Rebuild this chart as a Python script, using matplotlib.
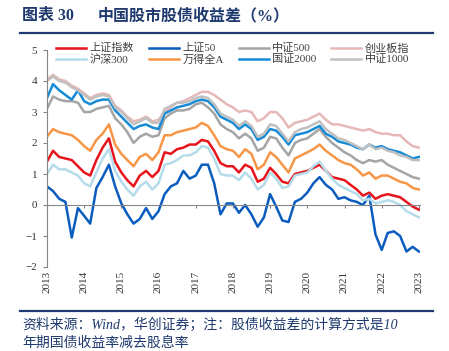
import numpy as np
import pandas as pd
import matplotlib
matplotlib.use("Agg")
import matplotlib.pyplot as plt
from matplotlib.lines import Line2D

plt.rcParams['font.family'] = ['Liberation Serif', 'Noto Sans CJK SC']

# =========================
# DATA (2-month steps)
# =========================
dates = pd.date_range("2013-01-01", "2023-01-01", freq="2MS")

szzs = [1.4, 1.75, 1.55, 1.5, 1.45, 1.25, 1.05, 0.95, 1.45, 1.85, 2.15, 1.4,
        1.05, 0.8, 0.6, 0.95, 1.1, 0.9, 1.1, 1.7, 1.65, 1.8, 1.85, 1.95,
        1.95, 2.1, 2.05, 1.75, 1.35, 1.25, 1.25, 1.05, 1.3, 1.2, 0.75, 0.85,
        1.2, 1.0, 0.75, 0.7, 1.0, 1.05, 1.1, 1.2, 1.3, 1.1, 0.9, 0.85,
        0.8, 0.65, 0.5, 0.3, 0.4, 0.2, 0.3, 0.35, 0.3, 0.25, 0.1, -0.05, -0.15]
sz50 = [0.6, 0.45, 0.2, 0.1, -1.05, -0.1, -0.35, -0.6, 0.55, 0.9, 1.3, 0.6,
        0.05, -0.3, -0.6, -0.45, -0.1, -0.45, -0.2, 0.35, 0.6, 0.7, 1.1, 0.85,
        0.95, 1.3, 1.3, 0.7, -0.3, 0.05, 0.05, -0.25, 0.0, -0.3, -0.7, -0.4,
        0.35, -0.05, -0.5, -0.55, 0.1, 0.2, 0.4, 0.7, 0.9, 0.65, 0.5, 0.2,
        0.25, 0.15, 0.1, 0.0, 0.3, -0.95, -1.45, -0.9, -0.85, -1.0, -1.5, -1.35, -1.5]
zz500 = [3.1, 3.5, 3.4, 3.35, 3.35, 3.3, 3.0, 3.0, 3.1, 3.15, 3.2, 2.8,
         2.6, 2.35, 2.0, 2.2, 2.3, 2.2, 2.25, 2.8, 2.95, 3.05, 3.05, 3.1,
         3.25, 3.3, 3.15, 2.95, 2.6, 2.45, 2.35, 2.15, 2.3, 2.15, 1.75, 1.85,
         2.2, 2.15, 1.85, 1.6, 2.0, 2.1, 2.15, 2.3, 2.45, 2.2, 2.0, 1.85,
         1.7, 1.6, 1.45, 1.35, 1.45, 1.4, 1.45, 1.3, 1.2, 1.1, 1.0, 0.9, 0.85]
cyb = [4.05, 4.2, 4.05, 4.0, 3.85, 3.75, 3.6, 3.45, 3.55, 3.6, 3.55, 3.2,
       3.05, 2.85, 2.7, 2.75, 2.85, 2.7, 2.75, 3.0, 3.15, 3.3, 3.35, 3.45,
       3.55, 3.65, 3.65, 3.55, 3.4, 3.25, 3.15, 3.0, 3.05, 3.0, 2.7, 2.8,
       3.0, 3.0, 2.8, 2.5, 2.65, 2.7, 2.75, 2.85, 2.95, 2.75, 2.6, 2.6,
       2.55, 2.5, 2.45, 2.4, 2.45, 2.35, 2.3, 2.3, 2.25, 2.25, 2.05, 1.9, 1.85]
hs300 = [1.0, 1.3, 1.15, 1.15, 1.05, 0.95, 0.7, 0.6, 1.05, 1.5, 1.8, 1.1,
         0.75, 0.5, 0.3, 0.6, 0.75, 0.5, 0.7, 1.3, 1.35, 1.45, 1.6, 1.6,
         1.7, 1.9, 1.85, 1.5, 1.0, 0.95, 0.95, 0.8, 1.05, 0.85, 0.5, 0.65,
         1.05, 0.85, 0.55, 0.6, 0.95, 1.0, 1.05, 1.25, 1.4, 1.1, 0.85, 0.65,
         0.55, 0.45, 0.35, 0.15, 0.2, 0.05, 0.1, 0.15, 0.1, 0.0, -0.2, -0.3, -0.4]
wind_a = [2.2, 2.45, 2.35, 2.3, 2.25, 2.1, 1.9, 1.75, 2.1, 2.3, 2.6, 1.95,
          1.65, 1.45, 1.25, 1.55, 1.65, 1.45, 1.7, 2.25, 2.25, 2.35, 2.4, 2.45,
          2.5, 2.65, 2.55, 2.25, 1.9, 1.8, 1.75, 1.55, 1.8, 1.65, 1.15, 1.3,
          1.7, 1.55, 1.3, 1.05, 1.5, 1.6, 1.7, 1.8, 1.95, 1.75, 1.6, 1.45,
          1.35, 1.3, 1.15, 0.95, 1.05, 0.85, 0.95, 0.95, 0.85, 0.75, 0.7, 0.55, 0.5]
gz2000 = [3.45, 3.9, 3.7, 3.55, 3.4, 3.7, 3.35, 3.25, 3.35, 3.4, 3.4, 3.05,
          2.85, 2.65, 2.45, 2.55, 2.6, 2.5, 2.45, 2.95, 3.05, 3.15, 3.2, 3.25,
          3.35, 3.4, 3.35, 3.15, 2.85, 2.75, 2.65, 2.45, 2.6, 2.45, 2.1, 2.2,
          2.45, 2.4, 2.2, 1.95, 2.25, 2.3, 2.35, 2.45, 2.55, 2.3, 2.2, 2.05,
          2.0, 1.95, 1.85, 1.8, 1.95, 1.85, 1.9, 1.8, 1.75, 1.7, 1.6, 1.5, 1.55]
zz1000 = [4.0, 4.15, 4.0, 3.95, 3.8, 3.7, 3.55, 3.4, 3.5, 3.55, 3.5, 3.15,
          3.0, 2.8, 2.6, 2.7, 2.8, 2.65, 2.65, 3.1, 3.2, 3.3, 3.3, 3.35,
          3.45, 3.5, 3.45, 3.25, 2.95, 2.85, 2.75, 2.55, 2.7, 2.55, 2.2, 2.3,
          2.6, 2.55, 2.3, 2.05, 2.35, 2.45, 2.5, 2.6, 2.7, 2.45, 2.3, 2.15,
          2.1, 2.0, 1.9, 1.8, 1.95, 1.8, 1.85, 1.75, 1.7, 1.6, 1.55, 1.45, 1.45]

series = [
    ("上证指数", szzs, "#e8141c"),
    ("上证50", sz50, "#0b5cbf"),
    ("中证500", zz500, "#a5a5a5"),
    ("创业板指", cyb, "#e6b9b8"),
    ("沪深300", hs300, "#b4dcea"),
    ("万得全A", wind_a, "#f79646"),
    ("国证2000", gz2000, "#168bd6"),
    ("中证1000", zz1000, "#c0c0c0"),
]

years = pd.date_range("2013-01-01", "2023-01-01", freq="YS")
year_labels = [str(d.year) for d in years]

navy = "#1f3a6e"
axis_gray = "#868686"

# =========================
# PLOT
# =========================
fig = plt.figure(figsize=(4.49, 3.51), dpi=100)
ax = fig.add_axes([47/449, 1 - 267/351, 373/449, 217/351])

handles = []
for name, vals, col in series:
    h, = ax.plot(dates, vals, color=col, lw=1.8, label=name)
    handles.append(h)

ax.set_ylim(-2, 5)
ax.set_yticks(range(-2, 6))
ax.set_xlim(pd.Timestamp("2013-01-01"), pd.Timestamp("2023-01-12"))

for s in ["top", "right"]:
    ax.spines[s].set_visible(False)
ax.spines["left"].set_color(axis_gray)
ax.spines["bottom"].set_position(("data", 0))
ax.spines["bottom"].set_color(axis_gray)
ax.tick_params(axis="y", direction="out", length=3, color=axis_gray,
               labelsize=8, pad=4, labelcolor="#333333")
ax.set_xticks(years)
ax.tick_params(axis="x", direction="out", length=2.5, color=axis_gray,
               labelbottom=False)

sec = ax.secondary_xaxis("bottom")
sec.set_xticks(years, year_labels)
sec.tick_params(length=0, labelsize=8, rotation=90, pad=3, labelcolor="#333333")
sec.spines["bottom"].set_visible(False)

# legend in the Excel row order
order = [0, 4, 1, 5, 2, 6, 3, 7]
ax.legend([handles[i] for i in order], [series[i][0] for i in order],
          loc="upper left", bbox_to_anchor=(46/449, 1 - 33/351),
          bbox_transform=fig.transFigure, ncol=4, frameon=False,
          fontsize=8, handlelength=2.7, handletextpad=0.35,
          columnspacing=1.3, labelspacing=0.05, labelcolor="#404040")

# title and notes
fig.text(22/449, 1 - 16/351, "图表 30", fontsize=11.5, weight="bold",
         color=navy, va="center")
fig.text(98/449, 1 - 16/351, "中国股市股债收益差（%）", fontsize=11.5,
         weight="bold", color=navy, va="center")
fig.add_artist(Line2D([20/449, 433/449], [1 - 32.5/351] * 2, color=navy, lw=1.6))
fig.add_artist(Line2D([20/449, 433/449], [1 - 311/351] * 2, color=navy, lw=1.6))
fig.text(22/449, 1 - 325/351, "资料来源：Wind，华创证券；注：股债收益差的计算方式是10",
         fontsize=10, color=navy, style="italic", va="center")
fig.text(22/449, 1 - 343.5/351, "年期国债收益率减去股息率",
         fontsize=10, color=navy, style="italic", va="center")

fig.savefig("out.png", dpi=100)
